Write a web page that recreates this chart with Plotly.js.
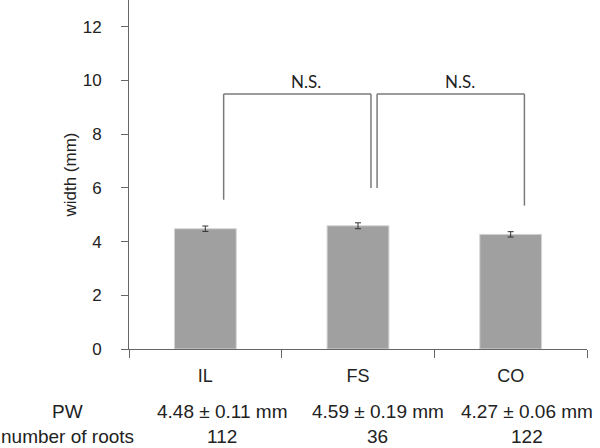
<!DOCTYPE html>
<html>
<head>
<meta charset="utf-8">
<script src="https://cdn.plot.ly/plotly-3.0.1.min.js"></script>
<style>
  html, body { margin: 0; padding: 0; background: #fff; }
  #plot { width: 600px; height: 448px; }
</style>
</head>
<body>
<div id="plot"></div>
<script>
// values
const groups = ["IL", "FS", "CO"];
const widthMean = [4.48, 4.59, 4.27];
const widthErr = [0.1, 0.11, 0.1];
const pwSd = [0.11, 0.19, 0.06];
const nRoots = [112, 36, 122];

// significance brackets: [x left, x right, y top, y left end, y right end]
const brackets = [
  [0.12, 1.085, 9.5, 5.56, 6.0],
  [1.125, 2.09, 9.5, 6.0, 5.34]
];
const bracketLabel = "N.S.";

let font = "Liberation Sans, Arial, sans-serif";
let lineCol = "#7a7a7a";

let trace = {
  type: "bar",
  x: groups,
  y: widthMean,
  marker: { color: "#a0a0a0", line: { color: "#d6d6d6", width: 1 } },
  error_y: { type: "data", array: widthErr, visible: true, color: "#333", thickness: 1, width: 3 },
  hoverinfo: "skip"
};

let shapes = [];
let annotations = [];

brackets.forEach(b => {
  let ln = { color: lineCol, width: 1.5 };
  shapes.push({ type: "line", xref: "x", yref: "y", x0: b[0], x1: b[0], y0: b[3], y1: b[2], line: ln });
  shapes.push({ type: "line", xref: "x", yref: "y", x0: b[0], x1: b[1], y0: b[2], y1: b[2], line: ln });
  shapes.push({ type: "line", xref: "x", yref: "y", x0: b[1], x1: b[1], y0: b[2], y1: b[4], line: ln });
  annotations.push({
    xref: "x", yref: "y", x: (b[0] + b[1]) / 2 + 0.06, y: b[2], yanchor: "bottom", yshift: 0,
    text: bracketLabel, showarrow: false, font: { family: "Lato, sans-serif", size: 17, color: "#222" }
  });
});

// rows under the axis
let rowFont = { family: font, size: 19, color: "#222" };
let rowShift = [-62, -87];
annotations.push({ xref: "paper", yref: "paper", x: -0.135, y: 0, xanchor: "center", yanchor: "middle", yshift: rowShift[0], text: "PW", showarrow: false, font: rowFont });
annotations.push({ xref: "paper", yref: "paper", x: -0.135, y: 0, xanchor: "center", yanchor: "middle", yshift: rowShift[1], text: "number of roots", showarrow: false, font: rowFont });
let rowX = [0.11, 1.13, 2.11];
groups.forEach((g, i) => {
  annotations.push({
    xref: "x", yref: "paper", x: rowX[i], y: 0, xanchor: "center", yanchor: "middle", yshift: rowShift[0],
    text: widthMean[i].toFixed(2) + " ± " + pwSd[i].toFixed(2) + " mm", showarrow: false, font: rowFont
  });
  annotations.push({
    xref: "x", yref: "paper", x: rowX[i], y: 0, xanchor: "center", yanchor: "middle", yshift: rowShift[1],
    text: String(nRoots[i]), showarrow: false, font: rowFont
  });
});

let layout = {
  width: 600,
  height: 448,
  margin: { l: 129, r: 13, t: 0, b: 99 },
  paper_bgcolor: "#fff",
  plot_bgcolor: "#fff",
  showlegend: false,
  bargap: 0.595,
  font: { family: font, color: "#222" },
  xaxis: {
    type: "category",
    range: [-0.5, 2.5],
    autorange: false,
    showline: true, linecolor: "#666", linewidth: 1,
    ticks: "outside", tickson: "boundaries", ticklen: 8, tickcolor: "#666",
    tickfont: { family: font, size: 18, color: "#222" },
    ticklabelstandoff: 10,
    showgrid: false, zeroline: false, fixedrange: true
  },
  yaxis: {
    range: [0, 13],
    autorange: false,
    dtick: 2,
    showline: true, linecolor: "#666", linewidth: 1,
    ticks: "outside", ticklen: 7, tickcolor: "#666",
    tickfont: { family: font, size: 17, color: "#222" },
    ticklabelstandoff: 16,
    showgrid: false, zeroline: false,
    title: { text: "width (mm)", font: { family: font, size: 17, color: "#222" }, standoff: 1 }
  },
  shapes: shapes,
  annotations: annotations
};

Plotly.newPlot("plot", [trace], layout, { displayModeBar: false, staticPlot: true });
</script>
</body>
</html>
